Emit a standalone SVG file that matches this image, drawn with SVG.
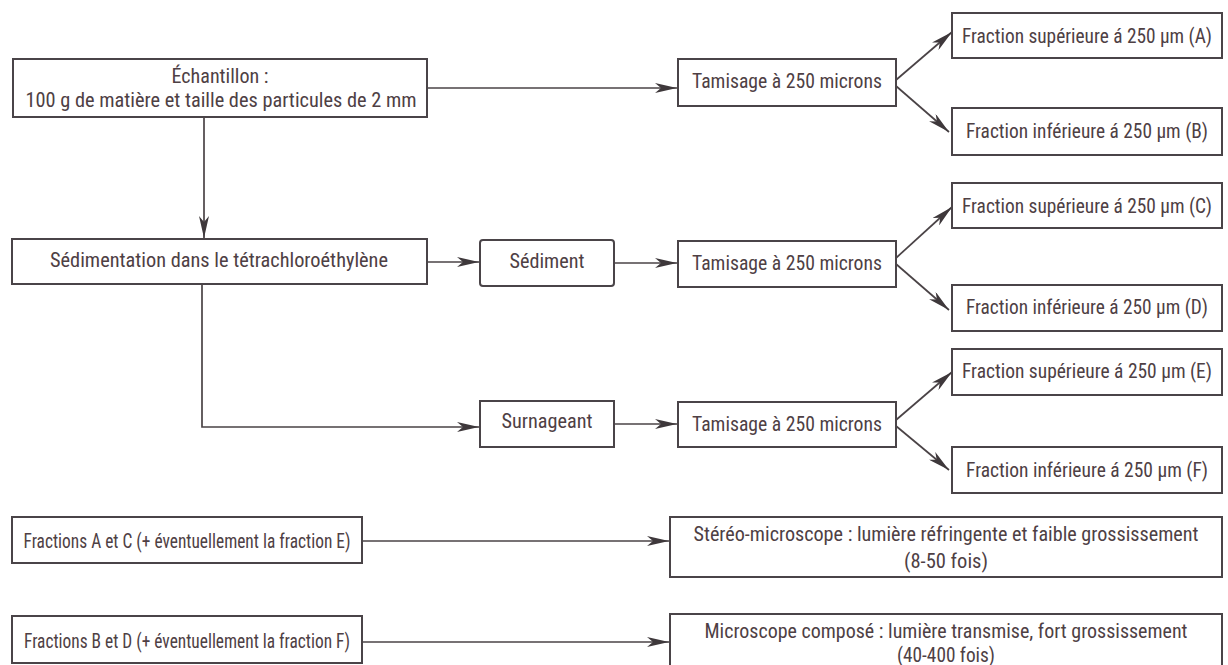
<svg xmlns="http://www.w3.org/2000/svg" width="1228" height="665" viewBox="0 0 1228 665">
<defs>
<style>
.box{fill:#ffffff;stroke:#4a4448;stroke-width:2}
.ln{fill:none;stroke:#4a4346;stroke-width:1.7}
.t{font-family:"Liberation Sans Narrow","Roboto Condensed","DejaVu Sans Condensed",Roboto,"Liberation Sans",sans-serif;font-size:20.5px;fill:#4e4044;text-anchor:middle}
</style>
<marker id="ah" markerUnits="userSpaceOnUse" markerWidth="22" markerHeight="10" refX="22" refY="5" orient="auto" viewBox="0 0 22 10">
<path d="M0,0 L22,5 L0,10 L6,5 Z" fill="#3e383b"/>
</marker>
</defs>
<rect width="1228" height="665" fill="#ffffff"/>

<g id="connectors">
<line class="ln" x1="427" y1="88" x2="677" y2="88" marker-end="url(#ah)"/>
<line class="ln" x1="204" y1="117" x2="204" y2="238" marker-end="url(#ah)"/>
<line class="ln" x1="427" y1="262" x2="479" y2="262" marker-end="url(#ah)"/>
<line class="ln" x1="614" y1="263" x2="677" y2="263" marker-end="url(#ah)"/>
<polyline class="ln" points="202,284 202,427 479,427" marker-end="url(#ah)"/>
<line class="ln" x1="614" y1="424" x2="677" y2="424" marker-end="url(#ah)"/>
<line class="ln" x1="896" y1="80" x2="952" y2="32" marker-end="url(#ah)"/>
<line class="ln" x1="896" y1="86" x2="949" y2="132" marker-end="url(#ah)"/>
<line class="ln" x1="896" y1="258" x2="952" y2="207" marker-end="url(#ah)"/>
<line class="ln" x1="896" y1="264" x2="949" y2="310" marker-end="url(#ah)"/>
<line class="ln" x1="896" y1="420" x2="952" y2="372" marker-end="url(#ah)"/>
<line class="ln" x1="896" y1="426" x2="949" y2="470" marker-end="url(#ah)"/>
<line class="ln" x1="362" y1="541" x2="669" y2="541" marker-end="url(#ah)"/>
<line class="ln" x1="362" y1="642" x2="669" y2="642" marker-end="url(#ah)"/>
</g>

<g id="echantillon">
<rect class="box" x="13" y="59" width="414" height="58"/>
<text class="t" x="220" y="83" textLength="97" lengthAdjust="spacingAndGlyphs">Échantillon :</text>
<text class="t" x="221" y="107" textLength="391" lengthAdjust="spacingAndGlyphs">100 g de matière et taille des particules de 2 mm</text>
</g>

<g id="tamisage1">
<rect class="box" x="678" y="59" width="218" height="47"/>
<text class="t" x="787" y="88" textLength="190" lengthAdjust="spacingAndGlyphs">Tamisage à 250 microns</text>
</g>

<g id="fractionA">
<rect class="box" x="952" y="13" width="270" height="45"/>
<text class="t" x="1087" y="43" textLength="250" lengthAdjust="spacingAndGlyphs">Fraction supérieure á 250 µm (A)</text>
</g>

<g id="fractionB">
<rect class="box" x="952" y="108" width="270" height="47"/>
<text class="t" x="1087" y="138" textLength="242" lengthAdjust="spacingAndGlyphs">Fraction inférieure á 250 µm (B)</text>
</g>

<g id="sedimentation">
<rect class="box" x="12" y="239" width="415" height="45"/>
<text class="t" x="219" y="267" textLength="338" lengthAdjust="spacingAndGlyphs">Sédimentation dans le tétrachloroéthylène</text>
</g>

<g id="sediment">
<rect class="box" x="480" y="240" width="134" height="46" rx="3"/>
<text class="t" x="547" y="268" textLength="75" lengthAdjust="spacingAndGlyphs">Sédiment</text>
</g>

<g id="tamisage2">
<rect class="box" x="678" y="241" width="218" height="46"/>
<text class="t" x="787" y="270" textLength="190" lengthAdjust="spacingAndGlyphs">Tamisage à 250 microns</text>
</g>

<g id="fractionC">
<rect class="box" x="952" y="183" width="270" height="45"/>
<text class="t" x="1087" y="213" textLength="250" lengthAdjust="spacingAndGlyphs">Fraction supérieure á 250 µm (C)</text>
</g>

<g id="fractionD">
<rect class="box" x="952" y="285" width="270" height="46"/>
<text class="t" x="1087" y="314" textLength="242" lengthAdjust="spacingAndGlyphs">Fraction inférieure á 250 µm (D)</text>
</g>

<g id="surnageant">
<rect class="box" x="480" y="401" width="134" height="46"/>
<text class="t" x="547" y="428" textLength="91" lengthAdjust="spacingAndGlyphs">Surnageant</text>
</g>

<g id="tamisage3">
<rect class="box" x="678" y="402" width="218" height="45"/>
<text class="t" x="787" y="431" textLength="190" lengthAdjust="spacingAndGlyphs">Tamisage à 250 microns</text>
</g>

<g id="fractionE">
<rect class="box" x="952" y="349" width="270" height="46"/>
<text class="t" x="1087" y="378" textLength="250" lengthAdjust="spacingAndGlyphs">Fraction supérieure á 250 µm (E)</text>
</g>

<g id="fractionF">
<rect class="box" x="952" y="447" width="270" height="46"/>
<text class="t" x="1087" y="477" textLength="242" lengthAdjust="spacingAndGlyphs">Fraction inférieure á 250 µm (F)</text>
</g>

<g id="fractionsAC">
<rect class="box" x="12" y="517" width="350" height="46"/>
<text class="t" x="187" y="548" textLength="327" lengthAdjust="spacingAndGlyphs">Fractions A et C (+ éventuellement la fraction E)</text>
</g>

<g id="stereo">
<rect class="box" x="670" y="517" width="552" height="60"/>
<text class="t" x="946" y="541" textLength="505" lengthAdjust="spacingAndGlyphs">Stéréo-microscope : lumière réfringente et faible grossissement</text>
<text class="t" x="946" y="568" textLength="84" lengthAdjust="spacingAndGlyphs">(8-50 fois)</text>
</g>

<g id="fractionsBD">
<rect class="box" x="12" y="616" width="350" height="47"/>
<text class="t" x="187" y="648" textLength="326" lengthAdjust="spacingAndGlyphs">Fractions B et D (+ éventuellement la fraction F)</text>
</g>

<g id="microscope">
<rect class="box" x="670" y="614" width="552" height="66"/>
<text class="t" x="946" y="638" textLength="483" lengthAdjust="spacingAndGlyphs">Microscope composé : lumière transmise, fort grossissement</text>
<text class="t" x="946" y="662" textLength="98" lengthAdjust="spacingAndGlyphs">(40-400 fois)</text>
</g>
</svg>
